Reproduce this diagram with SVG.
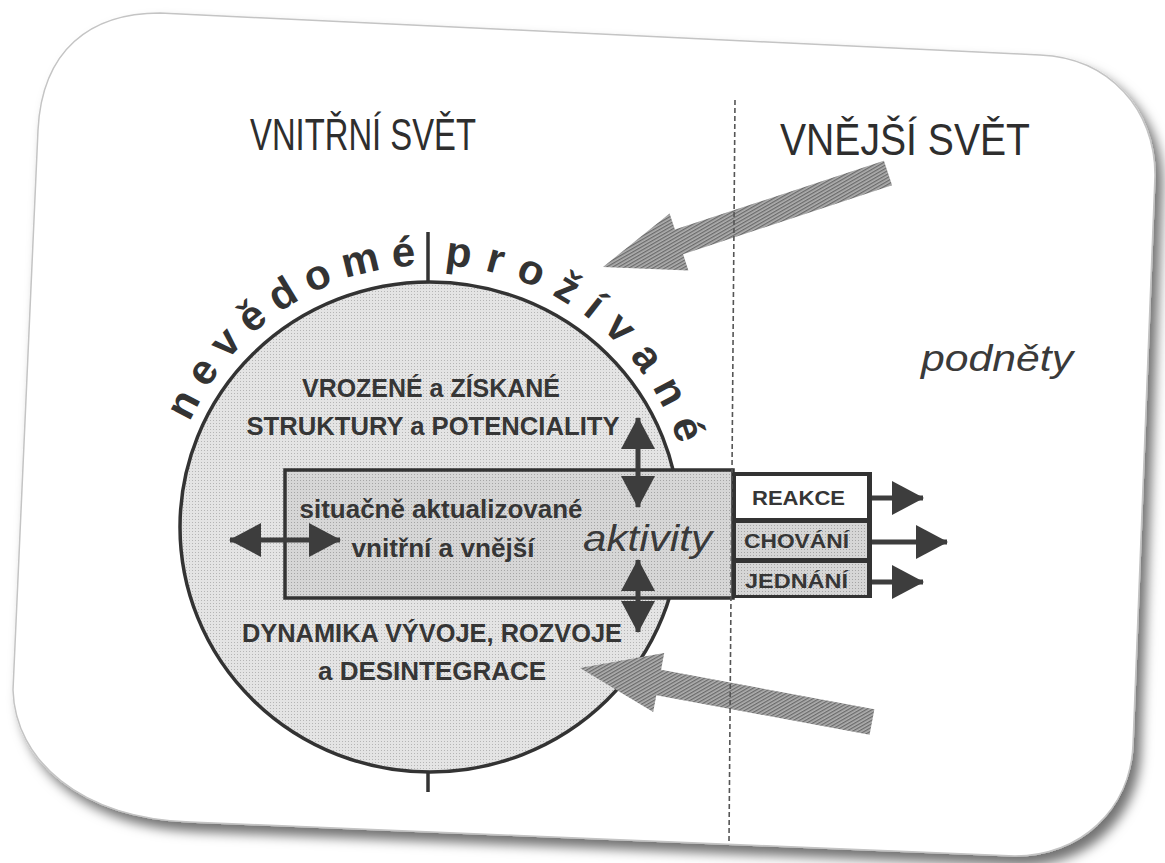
<svg xmlns="http://www.w3.org/2000/svg" width="1165" height="863" viewBox="0 0 1165 863">
<defs>
<filter id="sh" x="-5%" y="-5%" width="115%" height="120%"><feDropShadow dx="7" dy="9" stdDeviation="6" flood-color="#000" flood-opacity="0.55"/></filter>
<pattern id="dots" width="3" height="3" patternUnits="userSpaceOnUse"><rect width="3" height="3" fill="#e4e4e4"/><rect width="1" height="1" fill="#b5b5b5"/></pattern>
<pattern id="dots2" width="3" height="3" patternUnits="userSpaceOnUse"><rect width="3" height="3" fill="#d6d6d6"/><rect width="1" height="1" fill="#a5a5a5"/></pattern>
<pattern id="hatch" width="3" height="3" patternUnits="userSpaceOnUse" patternTransform="rotate(60)"><rect width="3" height="3" fill="#b0b0b0"/><rect width="1.3" height="3" fill="#6a6a6a"/></pattern>
<marker id="ah" viewBox="0 0 32 34" refX="31" refY="17" markerWidth="32" markerHeight="34" markerUnits="userSpaceOnUse" orient="auto-start-reverse"><path d="M0,0 L32,17 L0,34 Z" fill="#3d3d3d"/></marker>
<path id="arc" d="M172,481.5 A262,262 0 0 1 691,504.2" fill="none"/>
<style>
.hdr{font-family:"Liberation Sans",Arial,sans-serif;font-size:44px;fill:#2e2e2e}
.arc{font-family:"Liberation Sans",Arial,sans-serif;font-size:42px;font-weight:bold;fill:#333}
.b{font-family:"Liberation Sans",Arial,sans-serif;font-size:25px;font-weight:bold;fill:#363636;text-anchor:middle}
.bx{font-family:"Liberation Sans",Arial,sans-serif;font-size:20px;font-weight:bold;fill:#363636}
.it{font-family:"Liberation Sans",Arial,sans-serif;font-style:italic;fill:#3a3a3a}
.ln{stroke:#3d3d3d;stroke-width:5;fill:none}
.big{fill:url(#hatch)}
</style>
</defs>
<rect width="1165" height="863" fill="#fff"/>
<g id="card">
<path d="M160,13 L1040,55 C1110,58 1155,110 1155,175 L1133,745 C1130,810 1080,856 1015,856 L190,822 C80,818 15,760 13,690 L38,130 C42,50 90,13 160,13 Z" fill="#fff" stroke="#c4c4c4" stroke-width="1.5" filter="url(#sh)"/>
</g>
<g id="header-inner"><text class="hdr" x="250" y="150" textLength="226" lengthAdjust="spacingAndGlyphs">VNITŘNÍ SVĚT</text></g>
<g id="header-outer"><text class="hdr" x="780" y="155" textLength="250" lengthAdjust="spacingAndGlyphs">VNĚJŠÍ SVĚT</text></g>
<g id="stimuli"><text class="it" x="921" y="371" font-size="37" textLength="152" lengthAdjust="spacingAndGlyphs">podněty</text></g>
<g id="psyche">
<ellipse cx="430" cy="527" rx="250" ry="245" fill="url(#dots)" stroke="#333" stroke-width="3.5"/>
<line x1="428" y1="232" x2="428" y2="282" stroke="#333" stroke-width="3.5"/>
<line x1="428" y1="772" x2="428" y2="792" stroke="#333" stroke-width="3.5"/>
<text class="arc" letter-spacing="11.7"><textPath href="#arc" startOffset="62">nevědomé</textPath></text>
<text class="arc" letter-spacing="14.6"><textPath href="#arc" startOffset="380">prožívané</textPath></text>
<text class="b" x="431" y="397" textLength="258" lengthAdjust="spacingAndGlyphs">VROZENÉ a ZÍSKANÉ</text>
<text class="b" x="433" y="435" textLength="373" lengthAdjust="spacingAndGlyphs">STRUKTURY a POTENCIALITY</text>
<text class="b" x="432" y="642" textLength="380" lengthAdjust="spacingAndGlyphs">DYNAMIKA VÝVOJE, ROZVOJE</text>
<text class="b" x="432" y="680" textLength="228" lengthAdjust="spacingAndGlyphs">a DESINTEGRACE</text>
</g>
<g id="activities">
<rect x="285" y="470" width="448" height="128" fill="url(#dots2)" stroke="#333" stroke-width="3.5"/>
<text class="b" x="441" y="518" textLength="283" lengthAdjust="spacingAndGlyphs">situačně aktualizované</text>
<text class="b" x="443" y="557" textLength="183" lengthAdjust="spacingAndGlyphs">vnitřní a vnější</text>
<text class="it" x="583" y="551" font-size="37" textLength="129" lengthAdjust="spacingAndGlyphs">aktivity</text>
</g>
<g id="outputs">
<rect x="733" y="472" width="139" height="126" fill="#333"/>
<rect id="reakce" x="736" y="476" width="131" height="42" fill="#fff"/>
<rect id="chovani" x="736" y="523" width="131" height="35" fill="url(#dots2)"/>
<rect id="jednani" x="736" y="563" width="131" height="32" fill="url(#dots2)"/>
<text class="bx" x="752" y="505" textLength="93" lengthAdjust="spacingAndGlyphs">REAKCE</text>
<text class="bx" x="744" y="548" textLength="105" lengthAdjust="spacingAndGlyphs">CHOVÁNÍ</text>
<text class="bx" x="745" y="588" textLength="103" lengthAdjust="spacingAndGlyphs">JEDNÁNÍ</text>
</g>
<g id="connectors">
<line class="ln" x1="230" y1="540" x2="340" y2="540" marker-start="url(#ah)" marker-end="url(#ah)"/>
<line class="ln" x1="638" y1="418" x2="638" y2="507" marker-start="url(#ah)" marker-end="url(#ah)"/>
<line class="ln" x1="638" y1="560" x2="638" y2="632" marker-start="url(#ah)" marker-end="url(#ah)"/>
<line class="ln" x1="872" y1="498" x2="923" y2="498" marker-end="url(#ah)"/>
<line class="ln" x1="872" y1="542" x2="947" y2="542" marker-end="url(#ah)"/>
<line class="ln" x1="872" y1="582" x2="923" y2="582" marker-end="url(#ah)"/>
<polygon class="big" points="603,267 688.4,270.4 683.1,254.2 892.1,185.3 883.9,160.7 674.9,229.6 669.6,213.4"/>
<polygon class="big" points="580,668 653.2,712 656.3,695.3 869.6,734.8 874.4,709.2 661.1,669.7 664.2,653"/>
<line x1="735" y1="100" x2="729" y2="842" stroke="#555" stroke-width="1.6" stroke-dasharray="5,3"/>
</g>
</svg>
